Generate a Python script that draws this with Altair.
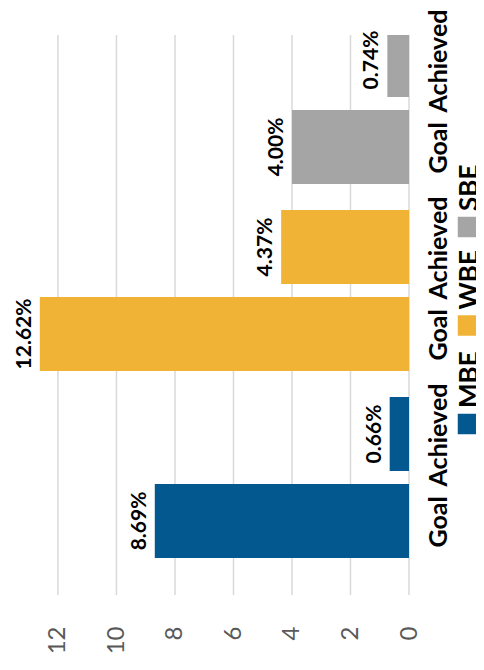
import altair as alt
import pandas as pd

groups = ["MBE", "MBE", "WBE", "WBE", "SBE", "SBE"]
kinds = ["Goal", "Achieved", "Goal", "Achieved", "Goal", "Achieved"]
values = [8.69, 0.66, 12.62, 4.37, 4.00, 0.74]
labels = ["8.69%", "0.66%", "12.62%", "4.37%", "4.00%", "0.74%"]
series = ["MBE", "WBE", "SBE"]
colors = ["#02588F", "#F0B336", "#A5A5A5"]
ticks = [0, 2, 4, 6, 8, 10, 12]

df = pd.DataFrame({"group": groups, "kind": kinds, "value": values, "label": labels})
leg = pd.DataFrame({"series": series})
tdf = pd.DataFrame({"t": ticks})

W, H = 392, 560
FONT = "Lato"

xscale = alt.Scale(domain=[0, 13.4], reverse=True, nice=False, zero=True)
xaxis = alt.Axis(values=ticks, grid=False, domain=False, ticks=False, labelAngle=270,
                 labelFont=FONT, labelFontSize=24, labelColor="#595959",
                 labelPadding=31, title=None)
yscale = alt.Scale(domain=["SBE", "WBE", "MBE"], range=[-25, 536], paddingInner=0, paddingOuter=0)
yoff = alt.Scale(domain=["Achieved", "Goal"], paddingInner=0.15, paddingOuter=0.15)
cscale = alt.Scale(domain=series, range=colors)

grid = alt.Chart(tdf).mark_rule(color="#D9D9D9", strokeWidth=1.5).encode(
    x=alt.X("t:Q", scale=xscale, axis=xaxis),
    y=alt.value(0),
    y2=alt.value(H),
)

base = alt.Chart(df).encode(
    y=alt.Y("group:N", scale=yscale, axis=None),
    yOffset=alt.YOffset("kind:N", scale=yoff),
)

bars = base.mark_bar(clip=True).encode(
    x=alt.X("value:Q", scale=xscale, axis=xaxis),
    color=alt.Color("group:N", scale=cscale, legend=None),
)

vals = base.mark_text(angle=270, font=FONT, fontWeight="bold", fontSize=21,
                      baseline="alphabetic", align="center", dy=-9, color="black").encode(
    x=alt.X("value:Q", scale=xscale, axis=xaxis),
    text="label:N",
)

cats = base.mark_text(angle=270, font=FONT, fontWeight="bold", fontSize=25,
                      baseline="top", align="center", dx=-1, dy=18, color="black").encode(
    x=alt.XDatum(0, scale=xscale, axis=xaxis),
    text="kind:N",
)

lscale = alt.Scale(type="point", domain=["SBE", "WBE", "MBE"], range=[192, 389], padding=0)

leg_sq = alt.Chart(leg).mark_square(size=420, opacity=1).encode(
    x=alt.value(W + 59),
    y=alt.Y("series:N", scale=lscale, axis=None),
    color=alt.Color("series:N", scale=cscale, legend=None),
)

leg_tx = alt.Chart(leg).mark_text(angle=270, font=FONT, fontWeight="bold", fontSize=26,
                                  baseline="top", align="left", dx=16, dy=-11,
                                  color="black").encode(
    x=alt.value(W + 59),
    y=alt.Y("series:N", scale=lscale, axis=None),
    text="series:N",
)

chart = alt.layer(grid, bars, vals, cats, leg_sq, leg_tx).resolve_scale(
    y="independent"
).properties(
    width=W, height=H,
    autosize=alt.AutoSizeParams(type="none"),
    padding={"left": 9, "top": 27, "right": 67, "bottom": 67},
    background="white",
).configure_view(stroke=None)

chart.save("out.html", embed_options={"renderer": "svg", "actions": False})
